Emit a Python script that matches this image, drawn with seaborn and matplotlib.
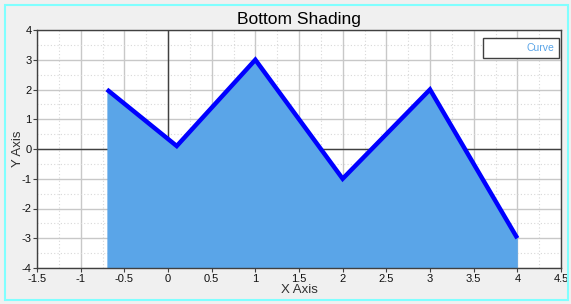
import matplotlib
matplotlib.use("Agg")
import matplotlib.pyplot as plt
import seaborn as sns
import pandas as pd
from matplotlib.ticker import MultipleLocator
from matplotlib.patches import Rectangle

x_vals = [-0.7, 0.1, 1.0, 2.0, 3.0, 4.0]
y_vals = [2.0, 0.1, 3.0, -1.0, 2.0, -3.0]
series_name = "Curve"
x_ticks = [-1.5, -1, -0.5, 0, 0.5, 1, 1.5, 2, 2.5, 3, 3.5, 4, 4.5]
y_ticks = [-4, -3, -2, -1, 0, 1, 2, 3, 4]

sns.set_theme(style="white")
plt.rcParams['font.family'] = ['Liberation Sans', 'DejaVu Sans']

df = pd.DataFrame({"x": x_vals, "y": y_vals, "s": series_name})

fig = plt.figure(figsize=(5.71, 3.04), dpi=100, facecolor="#f0f0f0")
ax = fig.add_axes([37/571, 1-268/304, (561-37)/571, (268-30)/304])
ax.set_facecolor("white")

ax.set_xlim(-1.5, 4.5)
ax.set_ylim(-4, 4)
ax.xaxis.set_minor_locator(MultipleLocator(0.25))
ax.yaxis.set_minor_locator(MultipleLocator(0.5))
ax.set_xticks(x_ticks)
ax.set_xticklabels([f"{t:g}" for t in x_ticks])
ax.set_yticks(y_ticks)
ax.set_yticklabels([f"{t:g}" for t in y_ticks])

ax.grid(which="major", color="#c8c8c8", linewidth=1.0, linestyle="-", zorder=0)
ax.grid(which="minor", color="#d8d8d8", linewidth=0.8, linestyle=(0, (1, 2)), zorder=0)
ax.set_axisbelow(True)
ax.axhline(0, color="#404040", linewidth=1.0, zorder=1)
ax.axvline(0, color="#404040", linewidth=1.0, zorder=1)

ax.fill_between(df["x"], df["y"], -4, color="#5aa5e8", linewidth=0, zorder=2)
sns.lineplot(data=df, x="x", y="y", ax=ax, color="#0000ff", linewidth=3.2,
             legend=False, zorder=3, solid_joinstyle="miter", solid_capstyle="butt")

for sp in ax.spines.values():
    sp.set_color("#404040")
    sp.set_linewidth(1.0)

ax.tick_params(axis="both", which="major", direction="out", length=3, width=0.8,
               color="#404040", labelsize=8, pad=1, labelcolor="#101010",
               bottom=True, left=True)
ax.tick_params(which="minor", length=0)

ax.set_xlabel("X Axis", fontsize=9.5, color="#303030", labelpad=0)
ax.set_ylabel("Y Axis", fontsize=9.5, color="#303030")
ax.yaxis.set_label_coords((24 - 37) / 524, 0.5)
ax.set_title("Bottom Shading", fontsize=12.5, color="black", pad=4)

# legend box with label only
leg_ax_x0 = (483 - 37) / (561 - 37)
leg_ax_y0 = (268 - 58) / (268 - 30)
leg_w = (559 - 483) / (561 - 37)
leg_h = (58 - 38) / (268 - 30)
ax.add_patch(Rectangle((leg_ax_x0, leg_ax_y0), leg_w, leg_h, transform=ax.transAxes,
                       facecolor="white", edgecolor="#404040", linewidth=1.0, zorder=5))
ax.text(leg_ax_x0 + leg_w - 0.008, leg_ax_y0 + leg_h / 2, series_name, transform=ax.transAxes,
        ha="right", va="center", fontsize=7.5, color="#5aa5e8", zorder=6)

# figure border
fig.patches.append(Rectangle((5/571, 1-300/304), (568-5)/571, (300-5)/304,
                             transform=fig.transFigure, fill=False,
                             edgecolor="#80ffff", linewidth=1.5))

fig.savefig("out.png", dpi=100, facecolor=fig.get_facecolor())
